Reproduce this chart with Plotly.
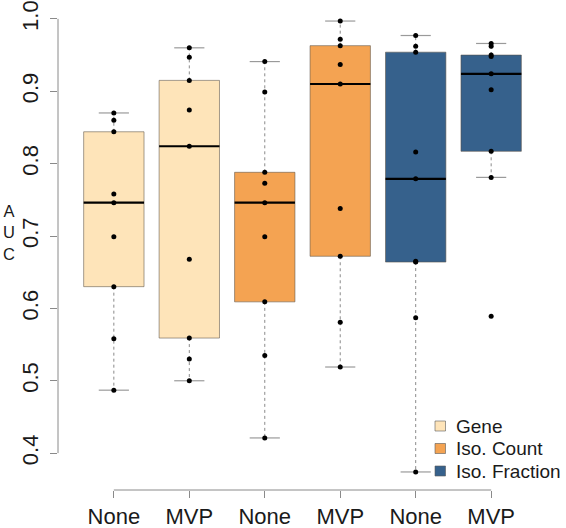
import numpy as np
import plotly.graph_objects as go

# ---- data ----
tick_labels = ["None", "MVP", "None", "MVP", "None", "MVP"]
groups = ["Gene", "Iso. Count", "Iso. Fraction"]
colors = ["#FEE4B9", "#F4A352", "#36618C"]

gene_none = [0.487, 0.558, 0.630, 0.699, 0.746, 0.758, 0.844, 0.860, 0.870]
gene_mvp = [0.500, 0.530, 0.559, 0.668, 0.824, 0.874, 0.915, 0.947, 0.960]
isocount_none = [0.421, 0.535, 0.609, 0.699, 0.746, 0.773, 0.788, 0.899, 0.941]
isocount_mvp = [0.519, 0.581, 0.672, 0.738, 0.910, 0.937, 0.963, 0.972, 0.997]
isofrac_none = [0.374, 0.587, 0.664, 0.665, 0.779, 0.816, 0.954, 0.962, 0.977]
isofrac_mvp = [0.589, 0.781, 0.817, 0.902, 0.924, 0.948, 0.950, 0.962, 0.966]

series = [gene_none, gene_mvp, isocount_none, isocount_mvp, isofrac_none, isofrac_mvp]
group_of = [0, 0, 1, 1, 2, 2]
positions = [1, 2, 3, 4, 5, 6]


def fivenum(v):
    x = np.sort(np.asarray(v, dtype=float))
    n = len(x)
    n4 = np.floor((n + 3) / 2) / 2
    d = np.array([1, n4, (n + 1) / 2, n + 1 - n4, n])
    return 0.5 * (x[np.floor(d).astype(int) - 1] + x[np.ceil(d).astype(int) - 1])


stats = []
for v in series:
    f = fivenum(v)
    iqr = f[3] - f[1]
    arr = np.asarray(v)
    lo = arr[arr >= f[1] - 1.5 * iqr].min()
    hi = arr[arr <= f[3] + 1.5 * iqr].max()
    stats.append(dict(q1=f[1], med=f[2], q3=f[3], lo=lo, hi=hi))

fig = go.Figure()
box_w = 0.8
cap_w = box_w / 4

# whiskers (dashed) and caps
wx, wy, cx, cy = [], [], [], []
for p, s in zip(positions, stats):
    wx += [p, p, None, p, p, None]
    wy += [s["q3"], s["hi"], None, s["q1"], s["lo"], None]
    cx += [p - cap_w, p + cap_w, None, p - cap_w, p + cap_w, None]
    cy += [s["hi"], s["hi"], None, s["lo"], s["lo"], None]
fig.add_trace(go.Scatter(x=wx, y=wy, mode="lines", showlegend=False, hoverinfo="skip",
                         line=dict(color="#8a8a8a", width=1, dash="3px,3px")))
fig.add_trace(go.Scatter(x=cx, y=cy, mode="lines", showlegend=False, hoverinfo="skip",
                         line=dict(color="#9a9a9a", width=1.2)))

# boxes as bars per group
for g, (name, col) in enumerate(zip(groups, colors)):
    idx = [i for i in range(6) if group_of[i] == g]
    fig.add_trace(go.Bar(
        x=[positions[i] for i in idx],
        base=[stats[i]["q1"] for i in idx],
        y=[stats[i]["q3"] - stats[i]["q1"] for i in idx],
        width=box_w, name=name, showlegend=False,
        marker=dict(color=col, line=dict(color="rgba(90,80,70,0.55)", width=1)),
    ))

# medians
mx, my = [], []
for p, s in zip(positions, stats):
    mx += [p - box_w / 2, p + box_w / 2, None]
    my += [s["med"], s["med"], None]
fig.add_trace(go.Scatter(x=mx, y=my, mode="lines", showlegend=False, hoverinfo="skip",
                         line=dict(color="black", width=2.2)))

# points
px, py = [], []
for p, v in zip(positions, series):
    px += [p] * len(v)
    py += list(v)
fig.add_trace(go.Scatter(x=px, y=py, mode="markers", showlegend=False,
                         marker=dict(color="black", size=5)))

allv = np.concatenate([np.asarray(v) for v in series])
rng = allv.max() - allv.min()
ylo, yhi = allv.min() - 0.04 * rng, allv.max() + 0.04 * rng

ytv = [0.4, 0.5, 0.6, 0.7, 0.8, 0.9, 1.0]
ytt = ["0.4", "0.5", "0.6", "0.7", "0.8", "0.9", "1.0"]

W, H = 566, 528
ML, MR, MT, MB = 58, 19, 3, 38
PW, PH = W - ML - MR, H - MT - MB


def pxx(x):
    return (x - ML) / PW


def pxy(y):
    return (H - MB - y) / PH


# manual legend (square keys + text), R-style
shapes = [
    dict(type="line", xref="paper", yref="y", x0=0, x1=0, y0=0.4, y1=1.0,
         line=dict(color="#8a8a8a", width=1)),
    dict(type="line", xref="x", yref="paper", x0=1, x1=6, y0=0, y1=0,
         line=dict(color="#8a8a8a", width=1)),
]
annotations = [
    dict(text="A<br>U<br>C", xref="paper", yref="paper", x=pxx(9), y=pxy(232),
         showarrow=False, font=dict(size=16.5), xanchor="center", yanchor="middle"),
]
row_y = [426, 448.5, 471]
for name, col, ry in zip(groups, colors, row_y):
    shapes.append(dict(type="rect", xref="paper", yref="paper",
                       x0=pxx(435), x1=pxx(445.5), y0=pxy(ry + 5), y1=pxy(ry - 5),
                       fillcolor=col, line=dict(color="rgba(90,90,90,0.6)", width=1)))
    annotations.append(dict(text=name, xref="paper", yref="paper", x=pxx(454), y=pxy(ry),
                            xanchor="left", yanchor="middle", showarrow=False,
                            font=dict(size=19)))

fig.update_layout(
    width=W, height=H,
    margin=dict(l=ML, r=MR, t=MT, b=MB),
    paper_bgcolor="white", plot_bgcolor="white",
    font=dict(family="Liberation Sans, Arial, sans-serif", color="#1a1a1a"),
    barmode="overlay", showlegend=False,
    xaxis=dict(range=[0.26, 6.74], tickvals=positions, ticktext=tick_labels,
               ticks="outside", ticklen=7, tickcolor="#8a8a8a", showgrid=False,
               zeroline=False, showline=False, tickfont=dict(size=22), automargin=False),
    yaxis=dict(range=[ylo, yhi], tickvals=ytv, ticktext=ytt, tickangle=-90,
               ticks="outside", ticklen=7, tickcolor="#8a8a8a", showgrid=False,
               zeroline=False, showline=False, tickfont=dict(size=22), automargin=False,
               ticklabelstandoff=3),
    shapes=shapes,
    annotations=annotations,
)

fig.write_html("out.html", config={"displayModeBar": False},
               post_script="document.body.style.margin='0';")
